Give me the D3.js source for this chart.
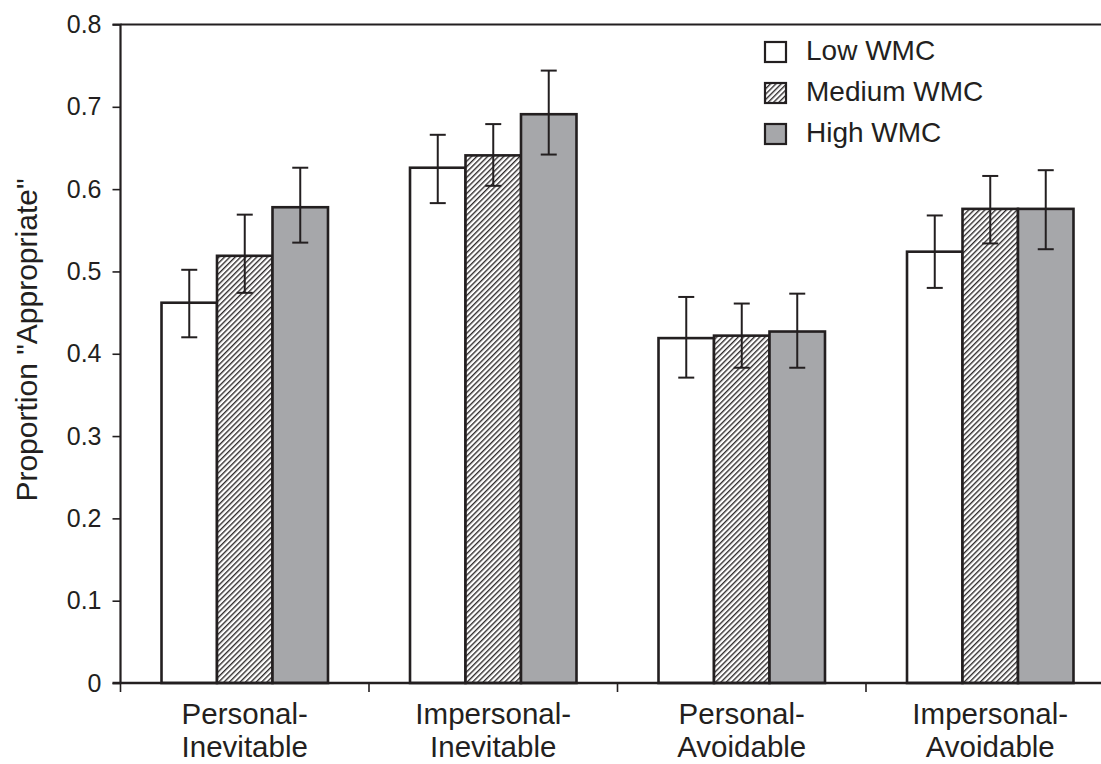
<!DOCTYPE html>
<html>
<head>
<meta charset="utf-8">
<script src="https://cdn.jsdelivr.net/npm/d3@7"></script>
<style>
  html, body { margin: 0; padding: 0; background: #fff; }
  svg { display: block; font-family: "Liberation Sans", Arial, Helvetica, sans-serif; }
</style>
</head>
<body>
<svg id="chart" width="1101" height="764"></svg>
<script>
// ---- data ----
const categories = [["Personal-", "Inevitable"], ["Impersonal-", "Inevitable"], ["Personal-", "Avoidable"], ["Impersonal-", "Avoidable"]];
const seriesNames = ["Low WMC", "Medium WMC", "High WMC"];
const lowWMC    = [0.462, 0.626, 0.419, 0.524];
const mediumWMC = [0.519, 0.641, 0.422, 0.576];
const highWMC   = [0.578, 0.691, 0.427, 0.576];
const lowErrLo  = [0.420, 0.583, 0.371, 0.480];
const lowErrHi  = [0.502, 0.666, 0.469, 0.568];
const medErrLo  = [0.474, 0.604, 0.383, 0.534];
const medErrHi  = [0.569, 0.679, 0.461, 0.616];
const highErrLo = [0.535, 0.642, 0.383, 0.527];
const highErrHi = [0.626, 0.744, 0.473, 0.623];
const yTicks = [0, 0.1, 0.2, 0.3, 0.4, 0.5, 0.6, 0.7, 0.8];
const yTickLabels = ["0", "0.1", "0.2", "0.3", "0.4", "0.5", "0.6", "0.7", "0.8"];
const yTitle = 'Proportion "Appropriate"';

const seriesValues = [lowWMC, mediumWMC, highWMC];
const seriesLo = [lowErrLo, medErrLo, highErrLo];
const seriesHi = [lowErrHi, medErrHi, highErrHi];

const svg = d3.select("#chart");
const ink = "#231f20";
const gray = "#a6a7aa";

// hatch pattern
const defs = svg.append("defs");
const pat = defs.append("pattern")
  .attr("id", "hatch").attr("patternUnits", "userSpaceOnUse")
  .attr("width", 3.8).attr("height", 3.8)
  .attr("patternTransform", "rotate(45)");
pat.append("rect").attr("width", 3.8).attr("height", 3.8).attr("fill", "#fff");
pat.append("line").attr("x1", 0.7).attr("y1", 0).attr("x2", 0.7).attr("y2", 3.8)
  .attr("stroke", ink).attr("stroke-width", 1.3);

const fills = ["#fff", "url(#hatch)", gray];

const x0 = 120.5, yTop = 24.5, yBot = 683;
const catKeys = categories.map((c, i) => i);
const x = d3.scaleBand().domain(catKeys).range([x0, x0 + 4 * 248.5]).paddingInner(0).paddingOuter(0);
const xs = d3.scaleBand().domain(d3.range(seriesNames.length)).range([0, x.bandwidth()]).paddingInner(0).paddingOuter(0.739);
const y = d3.scaleLinear().domain([0, 0.8]).range([yBot, yTop]);

// frame top line
svg.append("line").attr("x1", x0).attr("x2", 1101).attr("y1", yTop).attr("y2", yTop)
  .attr("stroke", ink).attr("stroke-width", 2);

// bars
const groups = svg.append("g").selectAll("g").data(catKeys).join("g")
  .attr("transform", d => `translate(${x(d)},0)`);

seriesNames.forEach((s, si) => {
  groups.append("rect")
    .attr("x", d => xs(si))
    .attr("y", d => y(seriesValues[si][d]))
    .attr("width", xs.bandwidth())
    .attr("height", d => y(0) - y(seriesValues[si][d]))
    .attr("fill", fills[si])
    .attr("stroke", ink).attr("stroke-width", 2.6);
});

// error bars
seriesNames.forEach((s, si) => {
  const cx = xs(si) + xs.bandwidth() / 2;
  groups.append("line")
    .attr("x1", cx).attr("x2", cx)
    .attr("y1", d => y(seriesLo[si][d])).attr("y2", d => y(seriesHi[si][d]))
    .attr("stroke", ink).attr("stroke-width", 2);
  [seriesLo[si], seriesHi[si]].forEach(arr => {
    groups.append("line")
      .attr("x1", cx - 8).attr("x2", cx + 8)
      .attr("y1", d => y(arr[d])).attr("y2", d => y(arr[d]))
      .attr("stroke", ink).attr("stroke-width", 2);
  });
});

// y axis
const yAxis = d3.axisLeft(y).tickValues(yTicks).tickFormat((d, i) => yTickLabels[i]).tickSize(8).tickPadding(11);
const gy = svg.append("g").attr("transform", `translate(${x0},0)`).call(yAxis);
gy.select(".domain").attr("stroke", ink).attr("stroke-width", 2.2).attr("d", `M-8,${yTop}H0V${yBot}`);
gy.selectAll(".tick line").attr("stroke", ink).attr("stroke-width", 1.6);
gy.selectAll(".tick text").attr("font-size", 25).attr("fill", ink).attr("font-family", '"Liberation Sans", Arial, sans-serif');

// x axis
const xEdges = d3.range(categories.length + 1).map(i => x0 + i * x.step());
svg.append("line").attr("x1", x0 - 8).attr("x2", 1101).attr("y1", yBot).attr("y2", yBot)
  .attr("stroke", ink).attr("stroke-width", 2.4);
svg.append("g").selectAll("line").data(xEdges).join("line")
  .attr("x1", d => d).attr("x2", d => d).attr("y1", yBot).attr("y2", yBot + 9)
  .attr("stroke", ink).attr("stroke-width", 1.6);

const labels = svg.append("g").selectAll("text").data(catKeys).join("text")
  .attr("x", d => x(d) + x.bandwidth() / 2)
  .attr("text-anchor", "middle").attr("font-size", 29.5).attr("fill", ink);
labels.append("tspan").attr("x", d => x(d) + x.bandwidth() / 2).attr("y", 724).text(d => categories[d][0]);
labels.append("tspan").attr("x", d => x(d) + x.bandwidth() / 2).attr("y", 757).text(d => categories[d][1]);

// y title
svg.append("text").attr("transform", "translate(37,340) rotate(-90)")
  .attr("text-anchor", "middle").attr("font-size", 30).attr("fill", ink).text(yTitle);

// legend
const leg = svg.append("g").selectAll("g").data(seriesNames).join("g")
  .attr("transform", (d, i) => `translate(765,${42 + i * 41})`);
leg.append("rect").attr("width", 21).attr("height", 20)
  .attr("fill", (d, i) => fills[i]).attr("stroke", ink).attr("stroke-width", 2.2);
leg.append("text").attr("x", 41).attr("y", 18).attr("font-size", 28).attr("fill", ink).text(d => d);
</script>
</body>
</html>
